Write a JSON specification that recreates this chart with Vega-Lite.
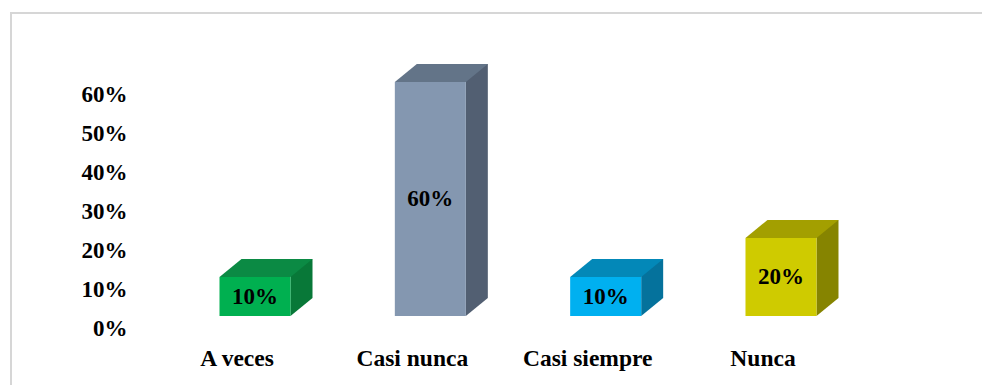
{
  "$schema": "https://vega.github.io/schema/vega-lite/v6.json",
  "autosize": {"type": "none"},
  "padding": {"left": 11, "top": 13, "right": -3, "bottom": -3},
  "width": 974,
  "height": 375,
  "background": "white",
  "config": {
    "view": {"stroke": "#D6D6D6", "strokeWidth": 2},
    "font": "Liberation Serif"
  },
  "data": {
    "values": [
      {"cat": "A veces", "value": 0.10},
      {"cat": "Casi nunca", "value": 0.60},
      {"cat": "Casi siempre", "value": 0.10},
      {"cat": "Nunca", "value": 0.20}
    ]
  },
  "encoding": {
    "x": {
      "field": "cat",
      "type": "nominal",
      "sort": null,
      "scale": {"range": [208.5, 805.5], "paddingInner": 0.595, "paddingOuter": 0},
      "axis": {
        "title": null,
        "domain": false,
        "ticks": false,
        "labelAngle": 0,
        "labelPadding": 0,
        "labelBaseline": "alphabetic",
        "offset": -23,
        "labelOffset": -18,
        "labelFont": "Liberation Serif",
        "labelFontSize": 23.5,
        "labelFontWeight": "bold",
        "labelColor": "#000000"
      }
    }
  },
  "layer": [
    {
      "encoding": {
        "y": {
          "field": "value",
          "type": "quantitative",
          "scale": {"domain": [0, 0.6], "range": [315, 81], "nice": false, "zero": true},
          "axis": {
            "title": null,
            "domain": false,
            "ticks": false,
            "grid": false,
            "values": [0, 0.1, 0.2, 0.3, 0.4, 0.5, 0.6],
            "format": ".0%",
            "offset": -116,
            "labelPadding": 0,
            "labelFont": "Liberation Serif",
            "labelFontSize": 23,
            "labelFontWeight": "bold",
            "labelColor": "#000000"
          }
        }
      },
      "layer": [
        {
          "mark": {"type": "bar", "width": 22, "xOffset": 46.5, "yOffset": -30, "y2Offset": -30},
          "encoding": {
            "y2": {"datum": 0},
            "color": {"field": "cat", "type": "nominal", "sort": null, "legend": null,
              "scale": {"domain": ["A veces", "Casi nunca", "Casi siempre", "Nunca"], "range": ["#087838", "#525F72", "#05729C", "#868400"]}}
          }
        },
        {
          "mark": {"type": "point", "shape": "M35.5,0L35.5,-18L57.5,-18Z", "size": 4, "filled": true, "opacity": 1, "strokeWidth": 0, "yOffset": -12},
          "encoding": {
            "y": {"datum": 0},
            "color": {"field": "cat", "type": "nominal", "sort": null, "legend": null,
              "scale": {"domain": ["A veces", "Casi nunca", "Casi siempre", "Nunca"], "range": ["#087838", "#525F72", "#05729C", "#868400"]}}
          }
        },
        {
          "mark": {"type": "point", "shape": "M-35.5,0L35.5,0L57.5,-18L-13.5,-18Z", "size": 4, "filled": true, "opacity": 1, "strokeWidth": 0, "yOffset": -12},
          "encoding": {
            "color": {"field": "cat", "type": "nominal", "sort": null, "legend": null,
              "scale": {"domain": ["A veces", "Casi nunca", "Casi siempre", "Nunca"], "range": ["#0B8A44", "#637488", "#0388B8", "#A39F00"]}}
          }
        },
        {
          "mark": {"type": "bar", "yOffset": -12, "y2Offset": -12},
          "encoding": {
            "y2": {"datum": 0},
            "color": {"field": "cat", "type": "nominal", "sort": null, "legend": null,
              "scale": {"domain": ["A veces", "Casi nunca", "Casi siempre", "Nunca"], "range": ["#00B050", "#8497B0", "#00B0F0", "#CFCB00"]}}
          }
        }
      ],
      "resolve": {"scale": {"color": "independent"}}
    },
    {
      "mark": {"type": "text", "yOffset": -12, "font": "Liberation Serif", "fontSize": 23, "fontWeight": "bold", "color": "#000000", "baseline": "middle", "align": "center"},
      "encoding": {
        "y": {
          "field": "value",
          "type": "quantitative",
          "scale": {"domain": [0, 1.2], "range": [315, 81], "nice": false, "zero": true},
          "axis": null
        },
        "text": {"field": "value", "type": "quantitative", "format": ".0%"}
      }
    }
  ],
  "resolve": {"scale": {"y": "independent"}}
}
